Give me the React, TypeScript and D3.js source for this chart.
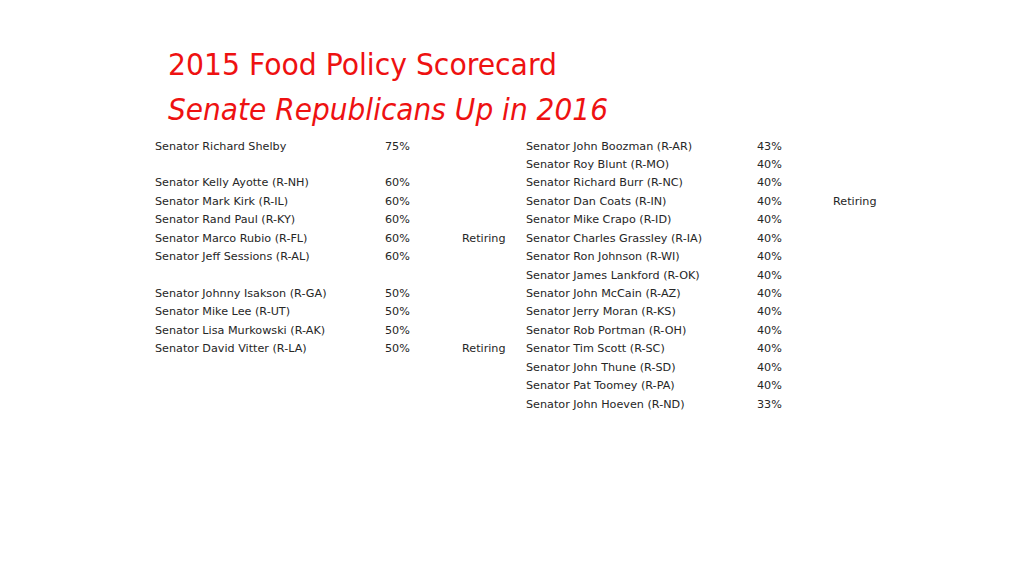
import React from "react";
import * as d3 from "d3";

const title = "2015 Food Policy Scorecard";
const subtitle = "Senate Republicans Up in 2016";

// null = empty spacer row
const leftNames: (string | null)[] = [
  "Senator Richard Shelby",
  null,
  "Senator Kelly Ayotte (R-NH)",
  "Senator Mark Kirk (R-IL)",
  "Senator Rand Paul (R-KY)",
  "Senator Marco Rubio (R-FL)",
  "Senator Jeff Sessions (R-AL)",
  null,
  "Senator Johnny Isakson (R-GA)",
  "Senator Mike Lee (R-UT)",
  "Senator Lisa Murkowski (R-AK)",
  "Senator David Vitter (R-LA)",
];
const leftScores: (number | null)[] = [75, null, 60, 60, 60, 60, 60, null, 50, 50, 50, 50];
const leftNotes: string[] = ["", "", "", "", "", "Retiring", "", "", "", "", "", "Retiring"];

const rightNames: string[] = [
  "Senator John Boozman (R-AR)",
  "Senator Roy Blunt (R-MO)",
  "Senator Richard Burr (R-NC)",
  "Senator Dan Coats (R-IN)",
  "Senator Mike Crapo (R-ID)",
  "Senator Charles Grassley (R-IA)",
  "Senator Ron Johnson (R-WI)",
  "Senator James Lankford (R-OK)",
  "Senator John McCain (R-AZ)",
  "Senator Jerry Moran (R-KS)",
  "Senator Rob Portman (R-OH)",
  "Senator Tim Scott (R-SC)",
  "Senator John Thune (R-SD)",
  "Senator Pat Toomey (R-PA)",
  "Senator John Hoeven (R-ND)",
];
const rightScores: number[] = [43, 40, 40, 40, 40, 40, 40, 40, 40, 40, 40, 40, 40, 40, 33];
const rightNotes: string[] = ["", "", "", "Retiring", "", "", "", "", "", "", "", "", "", "", ""];

const W = 1024;
const H = 576;
const FONT = "'DejaVu Sans', Verdana, sans-serif";
const RED = "#EE1111";
const TXT = "#262626";

export default function App() {
  const nRows = Math.max(leftNames.length, rightNames.length);
  const y = d3
    .scalePoint<number>()
    .domain(d3.range(nRows))
    .range([146, 146 + 18.43 * (nRows - 1)]);
  const pct = d3.format(".0%");

  const cols = {
    lName: 155,
    lScore: 385,
    lNote: 462,
    rName: 526,
    rScore: 757,
    rNote: 833,
  };
  const fs = 11.2;

  return (
    <svg
      width={W}
      height={H}
      style={{ position: "absolute", left: 0, top: 0, background: "#fff" }}
      viewBox={`0 0 ${W} ${H}`}
    >
      <rect width={W} height={H} fill="#fff" />
      <text x={168} y={75} fill={RED} fontFamily={FONT} fontSize={30} textLength={389} lengthAdjust="spacingAndGlyphs">
        {title}
      </text>
      <text
        x={168}
        y={120}
        fill={RED}
        fontFamily={FONT}
        fontSize={30}
        fontStyle="italic"
        textLength={440}
        lengthAdjust="spacingAndGlyphs"
      >
        {subtitle}
      </text>
      <g fontFamily={FONT} fontSize={fs} fill={TXT} dominantBaseline="central">
        {leftNames.map((n, i) =>
          n == null ? null : (
            <g key={"l" + i}>
              <text x={cols.lName} y={y(i)}>{n}</text>
              <text x={cols.lScore} y={y(i)}>{pct((leftScores[i] as number) / 100)}</text>
              {leftNotes[i] ? <text x={cols.lNote} y={y(i)}>{leftNotes[i]}</text> : null}
            </g>
          )
        )}
        {rightNames.map((n, i) => (
          <g key={"r" + i}>
            <text x={cols.rName} y={y(i)}>{n}</text>
            <text x={cols.rScore} y={y(i)}>{pct(rightScores[i] / 100)}</text>
            {rightNotes[i] ? <text x={cols.rNote} y={y(i)}>{rightNotes[i]}</text> : null}
          </g>
        ))}
      </g>
    </svg>
  );
}
